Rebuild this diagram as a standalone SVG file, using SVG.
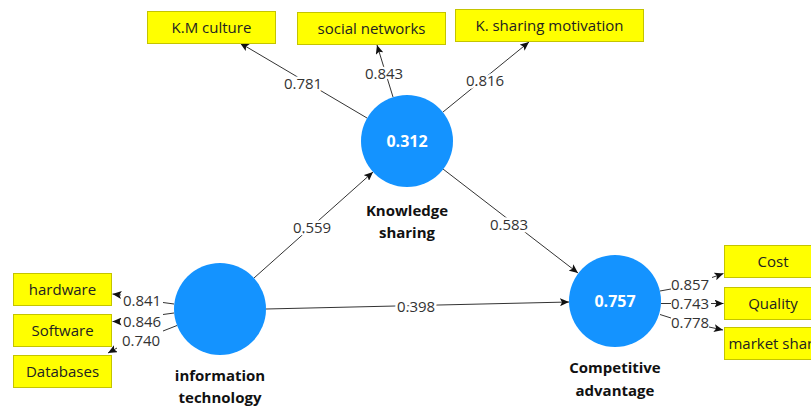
<svg xmlns="http://www.w3.org/2000/svg" width="811" height="407" viewBox="0 0 811 407">
  <defs>
    <marker id="arrow" markerUnits="userSpaceOnUse" markerWidth="9" markerHeight="8" refX="9" refY="4" orient="auto">
      <path d="M0,0 L9,4 L0,8 L2,4 Z" fill="#111"/>
    </marker>
    <style>
      .ind rect { fill: #ffff00; stroke: #c4c400; stroke-width: 1; }
      .ind text { font-family: "Open Sans", "Noto Sans", sans-serif; font-size: 15px; fill: #222; text-anchor: middle; }
      .lv circle { fill: #1493ff; }
      .lv .val { font-family: "Open Sans", "Noto Sans", sans-serif; font-size: 16px; font-weight: bold; fill: #fff; text-anchor: middle; dominant-baseline: central; }
      .lv .name { font-family: "Open Sans", "Noto Sans", sans-serif; font-size: 15px; font-weight: bold; fill: #111; text-anchor: middle; }
      .edges line { stroke: #333; stroke-width: 1; }
      .edges line.head { marker-end: url(#arrow); }
      .edges text { font-family: "Open Sans", "Noto Sans", sans-serif; font-size: 15px; fill: #333; text-anchor: middle; dominant-baseline: central; }
      .edges text.cut { stroke: #fff; stroke-width: 5; paint-order: stroke; stroke-linejoin: round; }
    </style>
  </defs>
  <rect width="811" height="407" fill="#fff"/>

  <!-- connectors: structural paths and outer loadings -->
  <g id="connectors" class="edges">
    <line class="head" x1="367" y1="118" x2="240" y2="43"/>
    <line class="head" x1="393" y1="97" x2="377" y2="45"/>
    <line class="head" x1="443" y1="112" x2="529" y2="42"/>
    <line class="head" x1="254" y1="278" x2="373" y2="172"/>
    <line class="head" x1="443" y1="169" x2="578" y2="273"/>
    <line class="head" x1="266" y1="309" x2="569" y2="302"/>
    <text class="cut" x="303" y="83">0.781</text>
    <text class="cut" x="384" y="73">0.843</text>
    <text class="cut" x="485" y="80">0.816</text>
    <text class="cut" x="312" y="227">0.559</text>
    <text class="cut" x="509" y="224">0.583</text>
    <text class="cut" x="416" y="306">0.398</text>

    <!-- information technology loadings -->
    <line x1="174" y1="304" x2="163" y2="302.5"/>
    <line class="head" x1="121" y1="295" x2="112.5" y2="294"/>
    <text x="142" y="300">0.841</text>
    <line x1="174" y1="313" x2="163" y2="314.5"/>
    <line class="head" x1="120" y1="321.5" x2="112.5" y2="321.5"/>
    <text x="142" y="320.5">0.846</text>
    <line x1="177" y1="325.5" x2="163" y2="331"/>
    <line class="head" x1="117" y1="348" x2="108" y2="353"/>
    <text x="141" y="340">0.740</text>

    <!-- competitive advantage loadings -->
    <line x1="660" y1="291" x2="671" y2="289"/>
    <line class="head" x1="712" y1="277.5" x2="723.5" y2="273.5"/>
    <text x="690" y="284">0.857</text>
    <line x1="661" y1="303.5" x2="671" y2="303.5"/>
    <line class="head" x1="711" y1="303.5" x2="723.5" y2="303.5"/>
    <text x="690" y="303">0.743</text>
    <line x1="660" y1="314.5" x2="671" y2="318"/>
    <line class="head" x1="709" y1="327" x2="723" y2="330"/>
    <text x="690" y="322">0.778</text>
  </g>

  <!-- indicators -->
  <g id="km-culture" class="ind"><rect x="147.5" y="11.5" width="128" height="32"/><text x="211.5" y="33">K.M culture</text></g>
  <g id="social-networks" class="ind"><rect x="297.5" y="12.5" width="148" height="32"/><text x="371.5" y="34">social networks</text></g>
  <g id="k-sharing-motivation" class="ind"><rect x="455.5" y="9.5" width="188" height="32"/><text x="549.5" y="31">K. sharing motivation</text></g>
  <g id="hardware" class="ind"><rect x="13.5" y="273.5" width="98" height="32"/><text x="62.5" y="295">hardware</text></g>
  <g id="software" class="ind"><rect x="13.5" y="314.5" width="98" height="32"/><text x="62.5" y="336">Software</text></g>
  <g id="databases" class="ind"><rect x="13.5" y="355.5" width="98" height="32"/><text x="62.5" y="377">Databases</text></g>
  <g id="cost" class="ind"><rect x="724.5" y="245.5" width="100" height="32"/><text x="773" y="267">Cost</text></g>
  <g id="quality" class="ind"><rect x="724.5" y="287.5" width="100" height="32"/><text x="773" y="309">Quality</text></g>
  <g id="market-share" class="ind"><rect x="724.5" y="327.5" width="100" height="32"/><text x="775" y="349">market share</text></g>

  <!-- latent variables -->
  <g id="knowledge-sharing" class="lv">
    <circle cx="407" cy="141" r="46"/>
    <text class="val" x="407" y="141">0.312</text>
    <text class="name" x="407" y="216">Knowledge</text>
    <text class="name" x="407" y="238">sharing</text>
  </g>
  <g id="information-technology" class="lv">
    <circle cx="220" cy="309" r="46"/>
    <text class="name" x="220" y="381">information</text>
    <text class="name" x="220" y="403">technology</text>
  </g>
  <g id="competitive-advantage" class="lv">
    <circle cx="615" cy="301" r="46"/>
    <text class="val" x="615" y="301">0.757</text>
    <text class="name" x="615" y="373">Competitive</text>
    <text class="name" x="615" y="396">advantage</text>
  </g>
</svg>
